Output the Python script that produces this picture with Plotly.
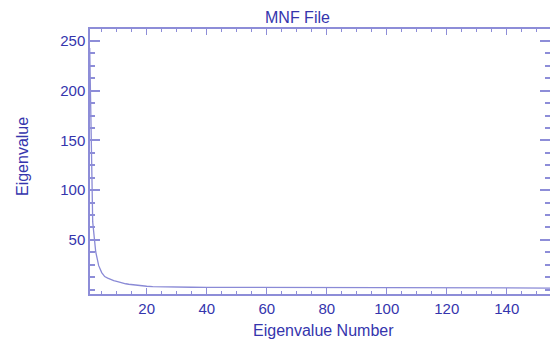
import plotly.graph_objects as go

# Eigenvalue number and eigenvalue
eig_num = [1, 2, 3, 4, 5, 6, 7, 8, 9, 10, 11, 12, 13, 14, 15, 16, 17, 18, 19, 20,
           22, 25, 30, 35, 40, 50, 60, 70, 80, 90, 100, 110, 120, 130, 140, 150, 155]
eig_val = [243, 68, 38, 24, 17, 13, 11.5, 10, 9, 8.2, 7.3, 6.3, 5.8, 5.3, 4.9, 4.5, 4.2, 3.9, 3.5, 3.3,
           3.0, 2.7, 2.5, 2.3, 2.2, 2.1, 2.0, 1.9, 1.9, 1.8, 1.8, 1.7, 1.7, 1.6, 1.6, 1.5, 1.5]

x_ticks = [20, 40, 60, 80, 100, 120, 140]
y_ticks = [50, 100, 150, 200, 250]

TEXT = "#3535ad"
AXIS = "#8d8dd8"
LINE = "#8a8ad6"
FONT = "Liberation Sans"

fig = go.Figure()
fig.add_trace(go.Scatter(x=eig_num, y=eig_val, mode="lines",
                         line=dict(color=LINE, width=1.3), hoverinfo="skip"))
fig.add_trace(go.Scatter(x=eig_num, y=eig_val, mode="lines", yaxis="y2",
                         line=dict(color="rgba(0,0,0,0)", width=0), hoverinfo="skip"))

fig.update_layout(
    width=550, height=339,
    margin=dict(l=90, r=0, t=29, b=45),
    plot_bgcolor="white", paper_bgcolor="white",
    showlegend=False,
    font=dict(family=FONT, size=15, color=TEXT),
    xaxis=dict(range=[1.1, 154.4], tickmode="array", tickvals=x_ticks,
               showgrid=False, zeroline=False,
               showline=True, linecolor=AXIS, linewidth=1.5, mirror="ticks",
               ticks="inside", ticklen=6, tickcolor=AXIS, tickwidth=1,
               minor=dict(ticks="inside", ticklen=3, tickcolor=AXIS, dtick=5, tick0=0, showgrid=False),
               tickfont=dict(family=FONT, size=15, color=TEXT)),
    yaxis=dict(range=[-4.5, 262], tickmode="array", tickvals=y_ticks,
               showgrid=False, zeroline=False,
               showline=True, linecolor=AXIS, linewidth=1.5,
               ticks="inside", ticklen=10, tickcolor=AXIS, tickwidth=1.5,
               minor=dict(ticks="inside", ticklen=5, tickcolor=AXIS, dtick=12.5, tick0=0, showgrid=False),
               tickfont=dict(family=FONT, size=15, color=TEXT)),
    yaxis2=dict(range=[-4.5, 262], overlaying="y", side="right", tickmode="array", tickvals=y_ticks,
                showgrid=False, zeroline=False, showline=False, showticklabels=False,
                ticks="inside", ticklen=10, tickcolor=AXIS, tickwidth=1.5,
                minor=dict(ticks="inside", ticklen=5, tickcolor=AXIS, dtick=12.5, tick0=0, showgrid=False)),
    annotations=[
        dict(text="MNF File", xref="paper", yref="paper",
             x=(297 - 90) / 460, y=(294 - 17) / 265,
             xanchor="center", yanchor="middle", showarrow=False,
             font=dict(family=FONT, size=16, color=TEXT)),
        dict(text="Eigenvalue Number", xref="paper", yref="paper",
             x=(323 - 90) / 460, y=-(330 - 294) / 265,
             xanchor="center", yanchor="middle", showarrow=False,
             font=dict(family=FONT, size=16, color=TEXT)),
        dict(text="Eigenvalue", xref="paper", yref="paper",
             x=-(90 - 22) / 460, y=(294 - 157) / 265, textangle=-90,
             xanchor="center", yanchor="middle", showarrow=False,
             font=dict(family=FONT, size=16, color=TEXT)),
    ],
)

fig.write_html("out.html")
